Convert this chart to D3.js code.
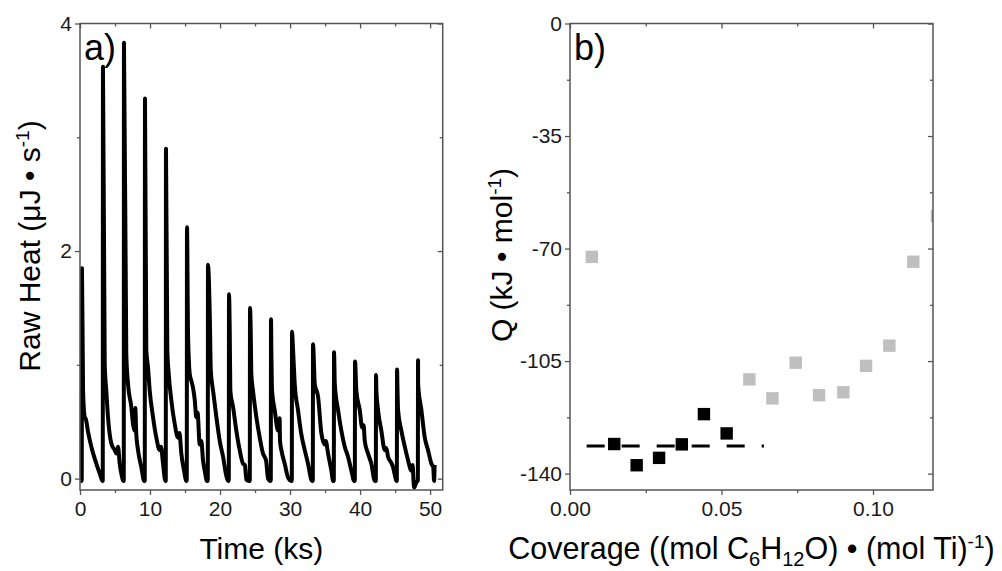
<!DOCTYPE html>
<html>
<head>
<meta charset="utf-8">
<script src="https://cdn.jsdelivr.net/npm/d3@7"></script>
<style>
  body { margin: 0; background: #fff; }
  svg { display: block; font-family: "Liberation Sans", Arial, sans-serif; }
  .tick text { fill: #1a1a1a; }
  .tick line { stroke: #555; stroke-width: 1.3px; }
</style>
</head>
<body>
<svg id="chart" width="1002" height="571"></svg>
<script>
// panel a) injections (ks), peak heights and the decay after each peak
var injectTimes = [0.25, 3.25, 6.25, 9.25, 12.25, 15.25, 18.25, 21.25, 24.25,
                   27.25, 30.25, 33.25, 36.25, 39.25, 42.25, 45.25, 48.25];
var peakHeights = [1.85, 3.62, 3.83, 3.34, 2.90, 2.21, 1.88, 1.62, 1.50,
                   1.40, 1.29, 1.18, 1.11, 1.03, 0.91, 0.96, 1.04];
// [time after injection (ks), raw heat]
var decayTraces = [
  [[0.19,0.77],[0.43,0.54],[0.6,0.52],[0.9,0.41],[1.37,0.28],[2.09,0.13],[2.6,0.04],[2.95,-0.02]],
  [[0.28,1.01],[0.51,0.77],[0.75,0.54],[1.22,0.31],[1.71,0.25],[1.95,0.22],[2.18,0.28],[2.42,0.13],[2.7,0.03],[2.92,-0.02]],
  [[0.36,1.10],[0.61,0.83],[1.08,0.63],[1.32,0.48],[1.55,0.42],[1.65,0.62],[1.78,0.40],[2.04,0.25],[2.51,0.10],[2.92,-0.02]],
  [[0.22,1.13],[0.46,0.98],[0.71,0.77],[1.18,0.54],[1.65,0.36],[2.14,0.25],[2.32,0.28],[2.61,0.13],[2.94,-0.02]],
  [[0.22,1.13],[0.42,0.92],[0.79,0.69],[1.28,0.48],[1.75,0.36],[1.96,0.40],[2.22,0.22],[2.61,0.07],[2.94,-0.02]],
  [[0.18,1.27],[0.42,0.92],[0.65,0.86],[0.89,0.80],[1.14,0.69],[1.36,0.54],[1.54,0.58],[1.85,0.30],[2.08,0.33],[2.32,0.16],[2.56,0.07],[2.89,-0.02]],
  [[0.29,1.42],[0.43,0.95],[0.76,0.77],[1.23,0.54],[1.71,0.33],[2.19,0.19],[2.66,0.02],[2.92,-0.02]],
  [[0.14,1.27],[0.22,0.77],[0.61,0.63],[1.08,0.42],[1.56,0.25],[2.04,0.13],[2.3,0.12],[2.51,-0.01],[2.9,-0.02]],
  [[0.14,1.27],[0.22,0.92],[0.46,0.77],[0.94,0.54],[1.42,0.36],[1.89,0.22],[2.13,0.19],[2.32,0.16],[2.61,0.0],[2.92,-0.02]],
  [[0.08,1.13],[0.18,0.77],[0.56,0.60],[1.04,0.42],[1.25,0.53],[1.32,0.33],[1.51,0.25],[1.99,0.13],[2.46,0.01],[2.92,-0.02]],
  [[0.18,1.13],[0.42,0.83],[0.89,0.60],[1.36,0.39],[1.85,0.25],[2.32,0.13],[2.79,-0.01],[2.93,-0.02]],
  [[0.28,0.83],[0.75,0.72],[1.22,0.40],[1.7,0.30],[1.85,0.33],[2.18,0.22],[2.65,0.07],[2.91,-0.02]],
  [[0.14,0.83],[0.61,0.60],[1.08,0.42],[1.56,0.28],[2.04,0.19],[2.51,0.07],[2.9,-0.02]],
  [[0.22,0.77],[0.71,0.60],[1.04,0.45],[1.25,0.47],[1.42,0.33],[1.89,0.22],[2.36,0.13],[2.85,-0.02]],
  [[0.08,0.77],[0.32,0.60],[0.79,0.42],[1.28,0.25],[1.5,0.27],[1.75,0.19],[2.2,0.14],[2.46,0.10],[2.79,0.01],[2.95,-0.02]],
  [[0.1,0.77],[0.18,0.60],[0.65,0.42],[1.14,0.28],[1.61,0.16],[2.08,0.07],[2.25,0.12],[2.46,-0.08],[2.75,-0.04],[2.92,-0.02]],
  [[0.04,0.83],[0.51,0.60],[0.99,0.36],[1.46,0.25],[1.94,0.13],[2.2,0.10],[2.32,-0.02],[2.4,0.12]]
];

var timeMajor = [0, 10, 20, 30, 40, 50];
var timeMinor = [5, 15, 25, 35, 45];
var rawMajor = [0, 2, 4];
var rawMinor = [1, 3];

// panel b) differential heats
var coverageFit = [0.0146, 0.0220, 0.0294, 0.0369, 0.0442, 0.0517];
var heatFit = [-130.8, -137.4, -135.1, -130.9, -121.5, -127.5];
var coverageRest = [0.0072, 0.0592, 0.0668, 0.0745, 0.0822, 0.0902, 0.0977, 0.1054, 0.1133, 0.1211];
var heatRest = [-72.6, -110.7, -116.6, -105.5, -115.6, -114.7, -106.5, -100.2, -74.1, -59.9];
var meanHeat = -131.4;
var meanRange = [0.0055, 0.064];

var coverageMajor = [0, 0.05, 0.10];
var coverageMinor = [0.025, 0.075];
var heatMajor = [0, -35, -70, -105, -140];
var heatMinor = [-17.5, -52.5, -87.5, -122.5];

var svg = d3.select('#chart');
var plotTop = 23.5, plotBottom = 490;

var xA = d3.scaleLinear().domain([0, 51.8]).range([80, 442.7]);
var yA = d3.scaleLinear().domain([-0.1, 4]).range([plotBottom, plotTop]);

var xB = d3.scaleLinear().domain([0, 0.1198]).range([570, 933]);
var yB = d3.scaleLinear().domain([-145.1, 0]).range([plotBottom, plotTop]);

function cleanAxis (g) {
  g.select('.domain').remove();
  g.attr('font-size', 21).attr('font-family', null);
}

function drawAxes (g, x, y, xMajor, xMinor, yMajor, yMinor, xFmt, yFmt) {
  var left = x.range()[0], right = x.range()[1];

  g.append('g').attr('transform', 'translate(0,' + plotBottom + ')')
    .call(d3.axisBottom(x).tickValues(xMajor).tickSize(5).tickPadding(6).tickFormat(xFmt))
    .call(cleanAxis);
  g.append('g').attr('transform', 'translate(0,' + plotBottom + ')')
    .call(d3.axisBottom(x).tickValues(xMinor).tickSize(3).tickFormat(''))
    .call(cleanAxis);
  g.append('g').attr('transform', 'translate(0,' + plotTop + ')')
    .call(d3.axisTop(x).tickValues(xMajor).tickSize(-5).tickFormat(''))
    .call(cleanAxis);
  g.append('g').attr('transform', 'translate(0,' + plotTop + ')')
    .call(d3.axisTop(x).tickValues(xMinor).tickSize(-3).tickFormat(''))
    .call(cleanAxis);

  g.append('g').attr('transform', 'translate(' + left + ',0)')
    .call(d3.axisLeft(y).tickValues(yMajor).tickSize(5).tickPadding(3).tickFormat(yFmt))
    .call(cleanAxis);
  g.append('g').attr('transform', 'translate(' + left + ',0)')
    .call(d3.axisLeft(y).tickValues(yMinor).tickSize(3).tickFormat(''))
    .call(cleanAxis);
  g.append('g').attr('transform', 'translate(' + right + ',0)')
    .call(d3.axisRight(y).tickValues(yMajor).tickSize(-5).tickFormat(''))
    .call(cleanAxis);
  g.append('g').attr('transform', 'translate(' + right + ',0)')
    .call(d3.axisRight(y).tickValues(yMinor).tickSize(-3).tickFormat(''))
    .call(cleanAxis);

  g.append('rect')
    .attr('x', left).attr('y', plotTop)
    .attr('width', right - left).attr('height', plotBottom - plotTop)
    .attr('fill', 'none')
    .attr('stroke', '#555')
    .attr('stroke-width', 1.5);
}

// ---- panel a)
var trace = [[0.05, -0.02]];
injectTimes.forEach(function (t0, i) {
  trace.push([t0, -0.02]);
  trace.push([t0 + 0.03, peakHeights[i]]);
  decayTraces[i].forEach(function (p) { trace.push([t0 + p[0], p[1]]); });
});

var panelA = svg.append('g');

var line = d3.line()
    .x(function (d) { return xA(d[0]); })
    .y(function (d) { return yA(d[1]); })
    .curve(d3.curveMonotoneX);

panelA.append('path')
  .datum(trace)
  .attr('d', line)
  .attr('fill', 'none')
  .attr('stroke', '#000')
  .attr('stroke-width', 4)
  .attr('stroke-linejoin', 'round');

drawAxes(panelA, xA, yA, timeMajor, timeMinor, rawMajor, rawMinor, d3.format('d'), d3.format('d'));

panelA.append('text')
  .attr('x', 84).attr('y', 60)
  .attr('font-size', 36)
  .text('a)');

panelA.append('text')
  .attr('x', (xA.range()[0] + xA.range()[1]) / 2).attr('y', 559)
  .attr('text-anchor', 'middle')
  .attr('font-size', 30)
  .text('Time (ks)');

var ylabA = panelA.append('text')
  .attr('transform', 'translate(40,246) rotate(-90)')
  .attr('text-anchor', 'middle')
  .attr('font-size', 30);
ylabA.append('tspan').text('Raw Heat (\u03bcJ \u2022 s');
ylabA.append('tspan').attr('font-size', 19).attr('dy', -11).text('-1');
ylabA.append('tspan').attr('dy', 11).text(')');

// ---- panel b)
var panelB = svg.append('g');

panelB.append('clipPath').attr('id', 'clipB')
  .append('rect')
  .attr('x', xB.range()[0]).attr('y', plotTop)
  .attr('width', xB.range()[1] - xB.range()[0])
  .attr('height', plotBottom - plotTop);

var marks = panelB.append('g').attr('clip-path', 'url(#clipB)');
var sq = 12.4;

marks.append('line')
  .attr('x1', xB(meanRange[0])).attr('x2', xB(meanRange[1]))
  .attr('y1', yB(meanHeat)).attr('y2', yB(meanHeat))
  .attr('stroke', '#000')
  .attr('stroke-width', 3)
  .attr('stroke-dasharray', '18,17');

marks.selectAll('.rest').data(coverageRest)
  .enter().append('rect')
  .attr('class', 'rest')
  .attr('x', function (d) { return xB(d) - sq / 2; })
  .attr('y', function (d, i) { return yB(heatRest[i]) - sq / 2; })
  .attr('width', sq).attr('height', sq)
  .attr('fill', '#bfbfbf');

marks.selectAll('.fit').data(coverageFit)
  .enter().append('rect')
  .attr('class', 'fit')
  .attr('x', function (d) { return xB(d) - sq / 2; })
  .attr('y', function (d, i) { return yB(heatFit[i]) - sq / 2; })
  .attr('width', sq).attr('height', sq)
  .attr('fill', '#000');

drawAxes(panelB, xB, yB, coverageMajor, coverageMinor, heatMajor, heatMinor, d3.format('.2f'), function (d) { return String(d); });

panelB.append('text')
  .attr('x', 574).attr('y', 60)
  .attr('font-size', 36)
  .text('b)');

var xlabB = panelB.append('text')
  .attr('x', (xB.range()[0] + xB.range()[1]) / 2).attr('y', 559)
  .attr('text-anchor', 'middle')
  .attr('font-size', 30.5);
xlabB.append('tspan').text('Coverage ((mol C');
xlabB.append('tspan').attr('font-size', 20).attr('dy', 7).text('6');
xlabB.append('tspan').attr('dy', -7).text('H');
xlabB.append('tspan').attr('font-size', 20).attr('dy', 7).text('12');
xlabB.append('tspan').attr('dy', -7).text('O) \u2022 (mol Ti)');
xlabB.append('tspan').attr('font-size', 19).attr('dy', -11).text('-1');
xlabB.append('tspan').attr('dy', 11).text(')');

var ylabB = panelB.append('text')
  .attr('transform', 'translate(512,255) rotate(-90)')
  .attr('text-anchor', 'middle')
  .attr('font-size', 30);
ylabB.append('tspan').text('Q (kJ \u2022 mol');
ylabB.append('tspan').attr('font-size', 19).attr('dy', -11).text('-1');
ylabB.append('tspan').attr('dy', 11).text(')');
</script>
</body>
</html>
